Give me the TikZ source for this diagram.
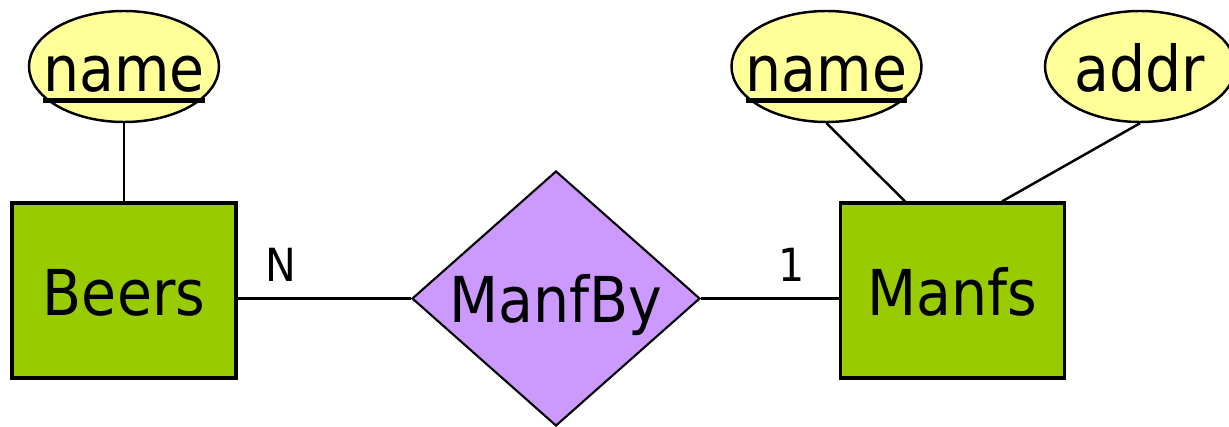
\documentclass[tikz,border=0pt]{standalone}
\usepackage{fontspec}
\usepackage{tikz}
\usetikzlibrary{shapes.geometric}
\newfontfamily\erfont{DejaVu Sans Condensed}
\definecolor{entfill}{HTML}{99CC00}
\definecolor{attrfill}{HTML}{FFFF99}
\definecolor{relfill}{HTML}{CC99FF}
\newsavebox\keybox
\newcommand{\keyattr}[1]{\sbox\keybox{#1}\rlap{\rule[-0.175em]{\wd\keybox}{0.075em}}\usebox\keybox}
\tikzset{entity/.style = {draw, fill = entfill, line width = 0.9pt, minimum width = 2.24cm, minimum height = 1.75cm, inner sep = 0, text height = 0.51cm, text depth = 0}}
\tikzset{attr/.style = {draw, ellipse, fill = attrfill, line width = 0.7pt, minimum width = 1.9cm, minimum height = 1.11cm, inner sep = 0, text height = 0.51cm, text depth = 0}}
\tikzset{rel/.style = {draw, diamond, fill = relfill, line width = 0.6pt, minimum width = 2.88cm, minimum height = 2.55cm, aspect = 1.13, inner sep = 0, text height = 0.49cm, text depth = 0}}
\tikzset{card/.style = {font = \erfont\fontsize{13}{15}\selectfont}}

\begin{document}
\begin{tikzpicture}[font = \erfont\fontsize{18}{22}\selectfont, line width = 0.7pt]
          \useasboundingbox (0, 0) rectangle (12.29, 4.27);

          \node [entity] (beers) at (1.24, 1.365) {Beers};
          \node [entity] (manfs) at (9.525, 1.365) {Manfs};
          \node [rel] (manfby) at (5.56, 1.285) {ManfBy};

          \node [attr] (beername) at (1.24, 3.605) {\makebox[0pt]{\keyattr{name}}};
          \node [attr] (manfname) at (8.265, 3.605) {\makebox[0pt]{\keyattr{name}}};
          \node [attr] (manfaddr) at (11.40, 3.605) {\makebox[0pt]{addr}};

          \node [card] (cardn) at (2.81, 1.62) {N};
          \node [card] (cardone) at (7.92, 1.62) {1};

          \draw (beername.south) -- (beers);
          \draw (manfname.south) -- ([xshift = -0.475cm] manfs.north);
          \draw (manfaddr.south) -- ([xshift = 0.495cm] manfs.north);

          \draw (beers.east |- manfby.west) -- (manfby.west);
          \draw (manfby.east) -- (manfby.east -| manfs.west);
        \end{tikzpicture}
\end{document}
